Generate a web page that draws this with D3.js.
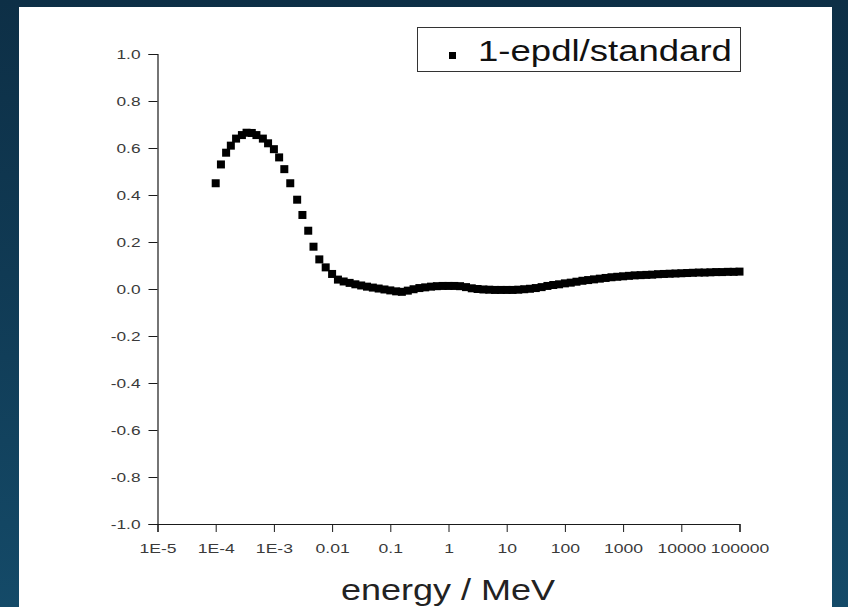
<!DOCTYPE html>
<html>
<head>
<meta charset="utf-8">
<script src="https://cdn.jsdelivr.net/npm/d3@7"></script>
<style>
  html, body { margin: 0; padding: 0; background: #0f344c; }
  svg { display: block; }
</style>
</head>
<body>
<svg id="chart" width="848" height="607"></svg>
<script>
// Energy grid (MeV)
const energy = [
  1.00e-4, 1.23e-4, 1.51e-4, 1.82e-4, 2.24e-4, 2.82e-4, 3.39e-4, 4.17e-4, 5.01e-4, 6.46e-4, 7.94e-4,
  1.00e-3, 1.23e-3, 1.51e-3, 1.91e-3, 2.51e-3, 3.09e-3, 3.89e-3, 4.79e-3, 6.03e-3, 7.76e-3,
  0.01, 0.0126, 0.0158, 0.02, 0.0251, 0.0316, 0.0398, 0.0501, 0.0631, 0.0794,
  0.1, 0.126, 0.158, 0.2, 0.251, 0.316, 0.398, 0.501, 0.631, 0.794,
  1, 1.26, 1.58, 2, 2.51, 3.16, 3.98, 5.01, 6.31, 7.94,
  10, 12.6, 15.8, 20, 25.1, 31.6, 39.8, 50.1, 63.1, 79.4,
  100, 126, 158, 200, 251, 316, 398, 501, 631, 794,
  1000, 1260, 1580, 2000, 2510, 3160, 3980, 5010, 6310, 7940,
  10000, 12600, 15800, 20000, 25100, 31600, 39800, 50100, 63100, 79400,
  100000
];

// 1 - epdl/standard ratio at each energy
const ratio = [
  0.45, 0.53, 0.58, 0.61, 0.64, 0.655, 0.665, 0.664, 0.655, 0.64, 0.62,
  0.595, 0.56, 0.51, 0.45, 0.38, 0.315, 0.248, 0.18, 0.126, 0.092,
  0.064, 0.040, 0.032, 0.026, 0.020, 0.015, 0.010, 0.006, 0.002, -0.002,
  -0.006, -0.010, -0.012, -0.007, -0.001, 0.004, 0.007, 0.010, 0.012, 0.013,
  0.013, 0.013, 0.012, 0.008, 0.003, 0.000, -0.002, -0.003, -0.004, -0.004,
  -0.004, -0.004, -0.003, -0.001, 0.001, 0.004, 0.008, 0.013, 0.017, 0.020,
  0.024, 0.027, 0.031, 0.035, 0.038, 0.041, 0.044, 0.047, 0.050, 0.052,
  0.054, 0.056, 0.058, 0.059, 0.060, 0.061, 0.063, 0.064, 0.065, 0.066,
  0.067, 0.068, 0.069, 0.070, 0.070, 0.071, 0.072, 0.072, 0.073, 0.073,
  0.074
];

const seriesName = "1-epdl/standard";
const xTickValues = [1e-5, 1e-4, 1e-3, 1e-2, 1e-1, 1, 10, 100, 1000, 10000, 100000];
const xTickLabels = ["1E-5", "1E-4", "1E-3", "0.01", "0.1", "1", "10", "100", "1000", "10000", "100000"];
const yTickValues = [-1.0, -0.8, -0.6, -0.4, -0.2, 0.0, 0.2, 0.4, 0.6, 0.8, 1.0];
const xTitle = "energy / MeV";

const svg = d3.select("#chart");
const W = 848, H = 607;
const plot = { left: 157.5, right: 739.5, top: 54, bottom: 524 };

// Slide background and white page
const defs = svg.append("defs");
const grad = defs.append("linearGradient").attr("id", "bg")
  .attr("x1", 0).attr("y1", 0).attr("x2", 0).attr("y2", 1);
grad.append("stop").attr("offset", "0%").attr("stop-color", "#0d2f46");
grad.append("stop").attr("offset", "45%").attr("stop-color", "#103a54");
grad.append("stop").attr("offset", "100%").attr("stop-color", "#144a68");
svg.append("rect").attr("width", W).attr("height", H).attr("fill", "url(#bg)");
svg.append("rect").attr("x", 19).attr("y", 7).attr("width", 813).attr("height", H - 7).attr("fill", "#ffffff");

const x = d3.scaleLog().domain([1e-5, 1e5]).range([plot.left, plot.right]);
const y = d3.scaleLinear().domain([-1, 1]).range([plot.bottom, plot.top]);

const FONT = "'Liberation Sans', Arial, sans-serif";
// widen text horizontally, as the chart's lettering is drawn wide
function widen(sel, k) {
  sel.each(function () {
    const w = this.getComputedTextLength();
    d3.select(this).attr("textLength", w * k).attr("lengthAdjust", "spacingAndGlyphs");
  });
}

// minor tick values
const xMinor = [];
for (let e = -5; e < 5; e++) for (let m = 2; m <= 9; m++) xMinor.push(m * Math.pow(10, e));
const yMinor = d3.range(-9, 10, 2).map(v => v / 10);

// Y axis
const gy = svg.append("g").attr("transform", `translate(${plot.left},0)`);
gy.call(d3.axisLeft(y).tickValues(yMinor).tickSize(5).tickFormat(""));
gy.call(d3.axisLeft(y).tickValues(yTickValues).tickSize(9).tickPadding(8).tickFormat(d3.format(".1f")));
gy.selectAll("path.domain").attr("stroke", "#1a1a1a").attr("stroke-width", 1.2);
gy.selectAll(".tick line").attr("stroke", "#1a1a1a");
gy.selectAll(".tick text").attr("font-family", FONT).attr("font-size", 13.5).attr("fill", "#3a3a3a")
  .text(d => d3.format(".1f")(d).replace("−", "-"));
widen(gy.selectAll(".tick text"), 1.28);

// X axis
const gx = svg.append("g").attr("transform", `translate(0,${plot.bottom})`);
gx.call(d3.axisBottom(x).tickValues(xMinor).tickSize(4).tickFormat(""));
gx.call(d3.axisBottom(x).tickValues(xTickValues).tickSize(8).tickPadding(11)
  .tickFormat((d, i) => xTickLabels[i]));
gx.selectAll("path.domain").attr("stroke", "#1a1a1a").attr("stroke-width", 1.2);
gx.selectAll(".tick line").attr("stroke", "#1a1a1a");
gx.selectAll(".tick text").attr("font-family", FONT).attr("font-size", 13.5).attr("fill", "#3a3a3a");
widen(gx.selectAll(".tick text"), 1.3);

// Data markers
const pts = energy.map((e, i) => ({ e, v: ratio[i] }));
const S = 8;
svg.append("g").selectAll("rect").data(pts).join("rect")
  .attr("x", d => x(d.e) - S / 2)
  .attr("y", d => y(d.v) - S / 2)
  .attr("width", S).attr("height", S)
  .attr("fill", "#000");

// Legend
const lg = svg.append("g");
lg.append("rect").attr("x", 417.5).attr("y", 27.5).attr("width", 323).attr("height", 44)
  .attr("fill", "#fff").attr("stroke", "#333").attr("stroke-width", 1);
lg.append("rect").attr("x", 449).attr("y", 52).attr("width", 7).attr("height", 7).attr("fill", "#000");
const lt = lg.append("text").attr("x", 478).attr("y", 61)
  .attr("font-family", FONT).attr("font-size", 29).attr("fill", "#111").text(seriesName);
widen(lt, 1.26);

// Axis title
const xt = svg.append("text").attr("x", 448).attr("y", 600).attr("text-anchor", "middle")
  .attr("font-family", FONT).attr("font-size", 30).attr("fill", "#222").text(xTitle);
widen(xt, 1.2);
</script>
</body>
</html>
